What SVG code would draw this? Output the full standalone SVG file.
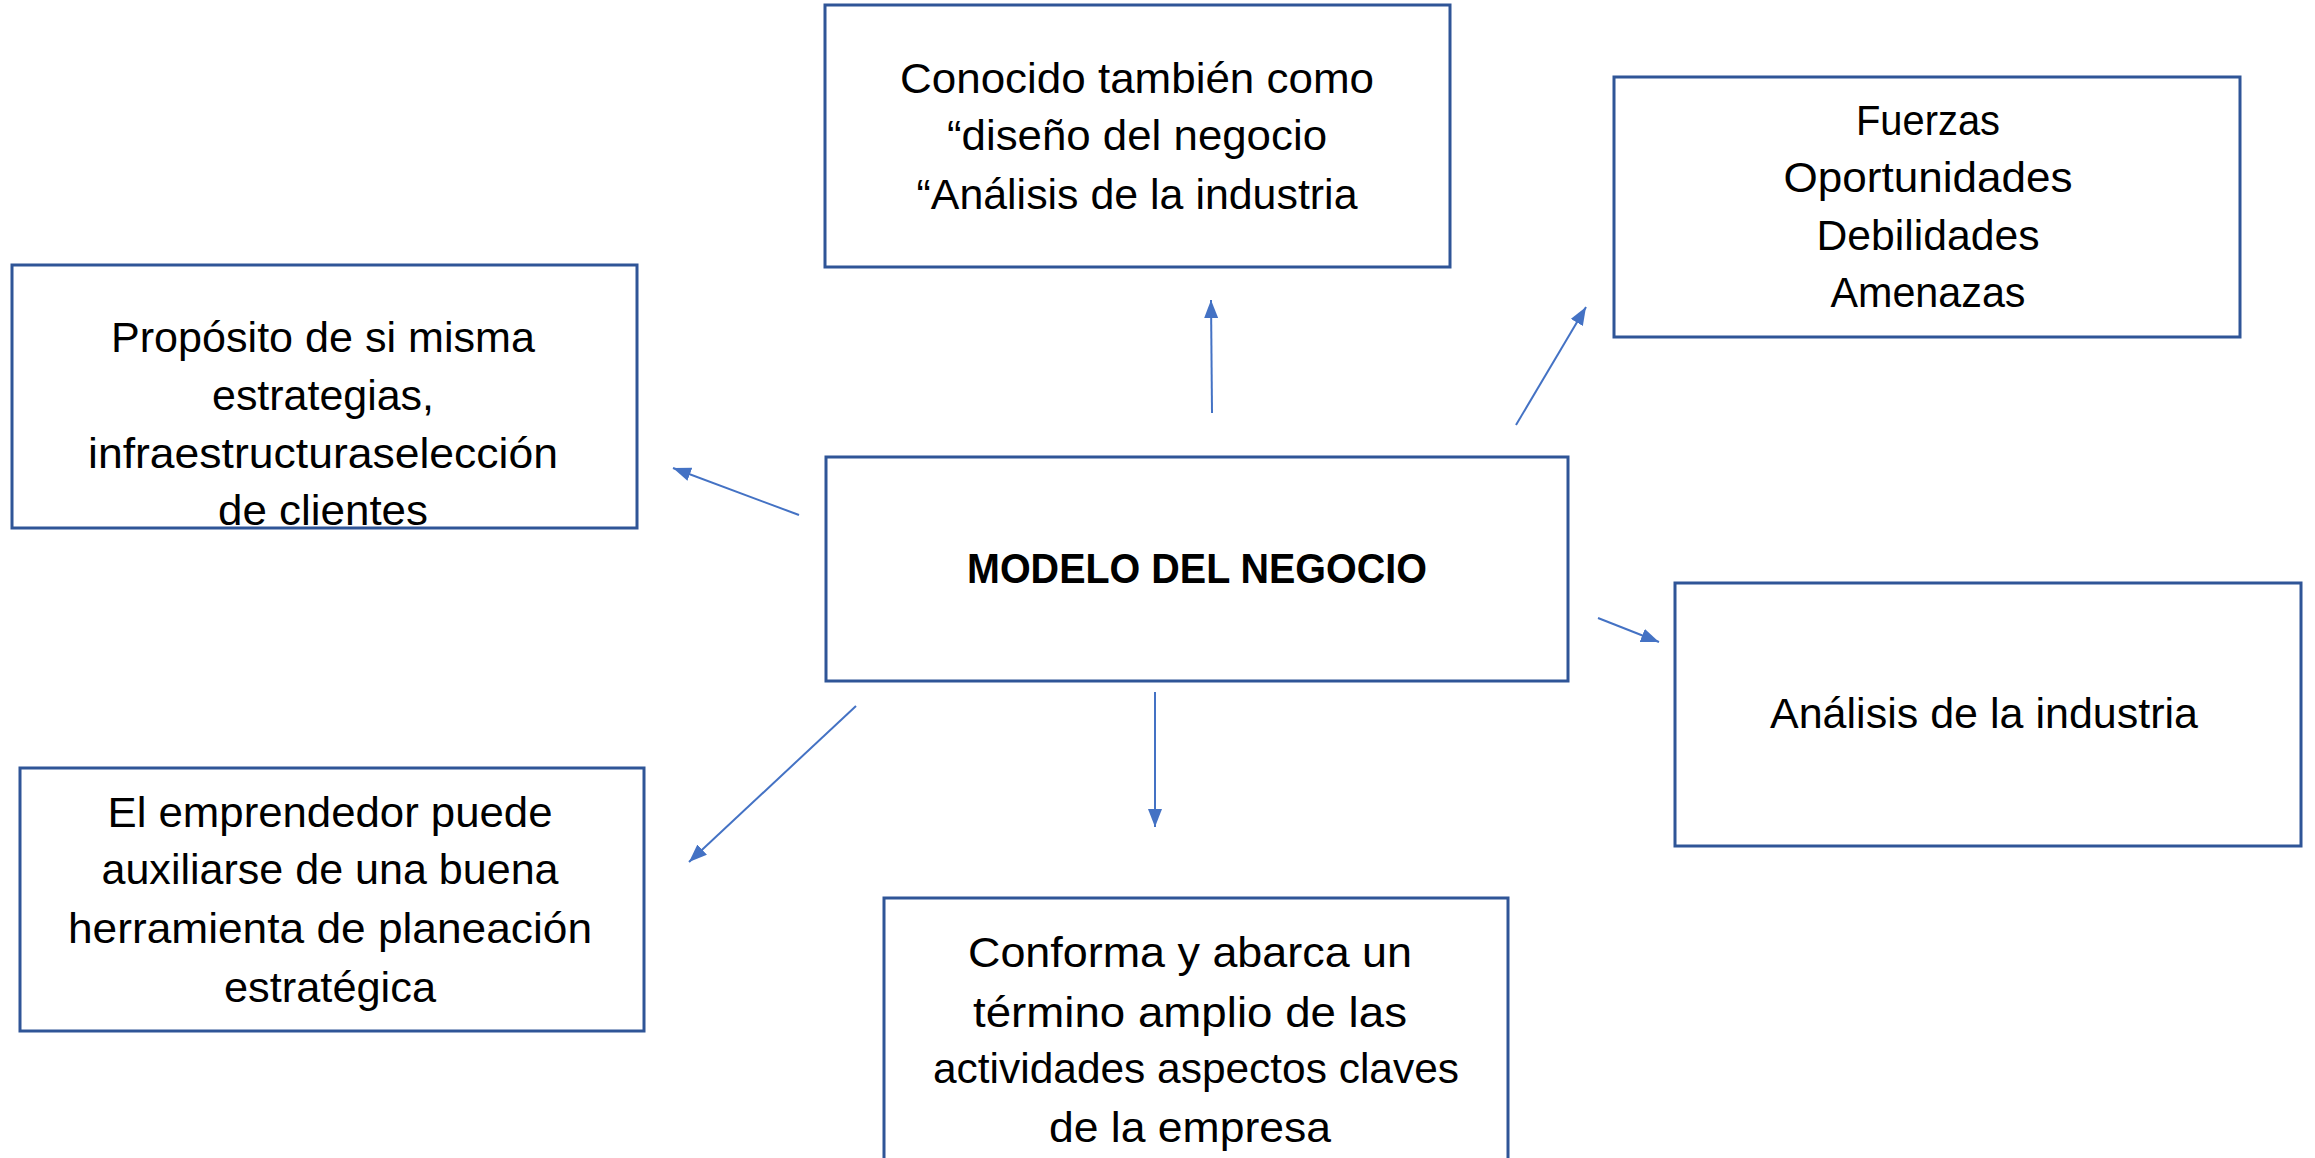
<svg xmlns="http://www.w3.org/2000/svg" width="2315" height="1158" viewBox="0 0 2315 1158">
<style>
.box{fill:#ffffff;stroke:#2F5597;stroke-width:3}
.t{font-family:"Liberation Sans",Arial,sans-serif;font-size:43px;fill:#000000;text-anchor:middle}
.b{font-weight:bold}
.c{stroke:#4472C4;stroke-width:2;fill:none;marker-end:url(#ah)}
</style>
<defs>
<marker id="ah" markerUnits="userSpaceOnUse" markerWidth="20" markerHeight="16" refX="18" refY="7" orient="auto">
<path d="M0,0 L18,7 L0,14 z" fill="#4472C4"/>
</marker>
</defs>
<rect width="2315" height="1158" fill="#ffffff"/>
<g id="connectors">
<line class="c" x1="1212" y1="413" x2="1211" y2="300"/>
<line class="c" x1="1516" y1="425" x2="1586" y2="307"/>
<line class="c" x1="799" y1="515" x2="673" y2="468"/>
<line class="c" x1="1598" y1="618" x2="1659" y2="642"/>
<line class="c" x1="1155" y1="692" x2="1155" y2="827"/>
<line class="c" x1="856" y1="706" x2="689" y2="862"/>
</g>
<g id="node-center">
<rect class="box" x="826" y="457" width="742" height="224"/>
<text class="t b" x="1197" y="583" textLength="460" lengthAdjust="spacingAndGlyphs">MODELO DEL NEGOCIO</text>
</g>
<g id="node-top">
<rect class="box" x="825" y="5" width="625" height="262"/>
<text class="t" x="1137" y="93" textLength="474" lengthAdjust="spacingAndGlyphs">Conocido también como</text>
<text class="t" x="1137" y="150" textLength="380" lengthAdjust="spacingAndGlyphs">“diseño del negocio</text>
<text class="t" x="1137" y="209" textLength="441" lengthAdjust="spacingAndGlyphs">“Análisis de la industria</text>
</g>
<g id="node-foda">
<rect class="box" x="1614" y="77" width="626" height="260"/>
<text class="t" x="1928" y="135" textLength="144" lengthAdjust="spacingAndGlyphs">Fuerzas</text>
<text class="t" x="1928" y="192" textLength="289" lengthAdjust="spacingAndGlyphs">Oportunidades</text>
<text class="t" x="1928" y="250" textLength="223" lengthAdjust="spacingAndGlyphs">Debilidades</text>
<text class="t" x="1928" y="307" textLength="195" lengthAdjust="spacingAndGlyphs">Amenazas</text>
</g>
<g id="node-proposito">
<rect class="box" x="12" y="265" width="625" height="263"/>
<text class="t" x="323" y="352" textLength="424" lengthAdjust="spacingAndGlyphs">Propósito de si misma</text>
<text class="t" x="323" y="410" textLength="222" lengthAdjust="spacingAndGlyphs">estrategias,</text>
<text class="t" x="323" y="468" textLength="470" lengthAdjust="spacingAndGlyphs">infraestructuraselección</text>
<text class="t" x="323" y="525" textLength="210" lengthAdjust="spacingAndGlyphs">de clientes</text>
</g>
<g id="node-analisis">
<rect class="box" x="1675" y="583" width="626" height="263"/>
<text class="t" x="1984" y="728" textLength="428" lengthAdjust="spacingAndGlyphs">Análisis de la industria</text>
</g>
<g id="node-emprendedor">
<rect class="box" x="20" y="768" width="624" height="263"/>
<text class="t" x="330" y="827" textLength="445" lengthAdjust="spacingAndGlyphs">El emprendedor puede</text>
<text class="t" x="330" y="884" textLength="457" lengthAdjust="spacingAndGlyphs">auxiliarse de una buena</text>
<text class="t" x="330" y="943" textLength="524" lengthAdjust="spacingAndGlyphs">herramienta de planeación</text>
<text class="t" x="330" y="1002" textLength="212" lengthAdjust="spacingAndGlyphs">estratégica</text>
</g>
<g id="node-conforma">
<rect class="box" x="884" y="898" width="624" height="300"/>
<text class="t" x="1190" y="967" textLength="444" lengthAdjust="spacingAndGlyphs">Conforma y abarca un</text>
<text class="t" x="1190" y="1027" textLength="434" lengthAdjust="spacingAndGlyphs">término amplio de las</text>
<text class="t" x="1196" y="1083" textLength="526" lengthAdjust="spacingAndGlyphs">actividades aspectos claves</text>
<text class="t" x="1190" y="1142" textLength="282" lengthAdjust="spacingAndGlyphs">de la empresa</text>
</g>
</svg>
